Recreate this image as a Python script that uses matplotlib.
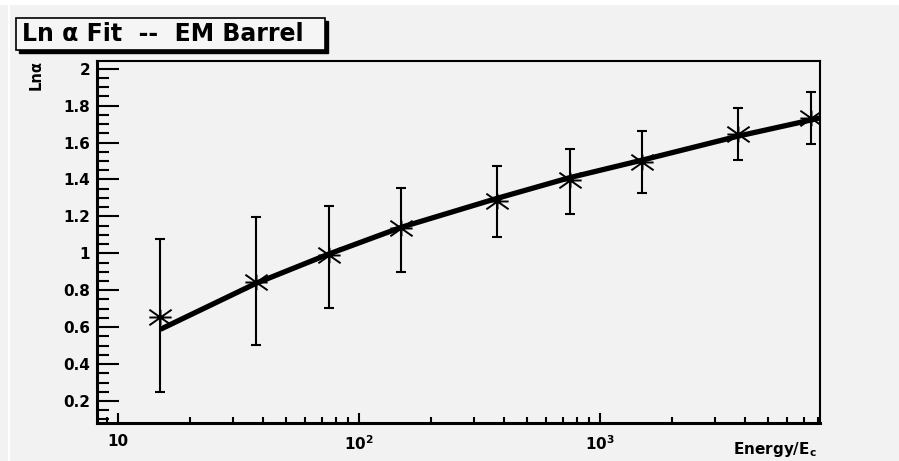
import numpy as np
import matplotlib
matplotlib.use('Agg')
from matplotlib import pyplot as plt
from matplotlib.path import Path
from matplotlib.patches import Rectangle
import matplotlib.ticker as ticker

plt.rcParams['font.family'] = ['DejaVu Sans']
plt.rcParams['font.weight'] = 'bold'
plt.rcParams['mathtext.fontset'] = 'dejavusans'

# data points (energy in units of Ec) and Ln(alpha) with error band ends
energy = [15, 37.5, 75, 150, 375, 750, 1500, 3750, 7500]
ln_alpha = [0.657, 0.845, 0.991, 1.137, 1.285, 1.397, 1.496, 1.646, 1.731]
ln_alpha_lo = [0.247, 0.503, 0.705, 0.897, 1.088, 1.211, 1.325, 1.505, 1.592]
ln_alpha_hi = [1.076, 1.195, 1.257, 1.355, 1.475, 1.565, 1.662, 1.789, 1.875]

# fit curve
fit_energy = [15, 37.5, 75, 150, 375, 750, 1500, 3750, 7500, 8185]
fit_value = [0.588, 0.838, 0.996, 1.141, 1.298, 1.41, 1.505, 1.635, 1.722, 1.733]

xticks = [10, 100, 1000]
xticklabels = ['10', r'$\mathbf{10^{2}}$', r'$\mathbf{10^{3}}$']

W, H = 899, 461
bg = '#f2f2f2'
fig = plt.figure(figsize=(W/100, H/100), dpi=100, facecolor=bg)

# canvas decorations (white strips)
fig.patches.append(Rectangle((0, 1-5.5/H), 1, 5.5/H, transform=fig.transFigure,
                             facecolor='white', edgecolor='none', zorder=0))
fig.patches.append(Rectangle((8/W, 0), 2/W, 1-5.5/H, transform=fig.transFigure,
                             facecolor='white', edgecolor='none', zorder=0))

ax = fig.add_axes([97/W, 38/H, (820-97)/W, (423-61)/H])
ax.set_facecolor(bg)
ax.set_xscale('log')
ax.set_xlim(8.19, 8185)
ax.set_ylim(0.0807, 2.0417)

y = np.array(ln_alpha)
err = [y - np.array(ln_alpha_lo), np.array(ln_alpha_hi) - y]

star = Path([(-1, 0), (1, 0), (0, -0.7), (0, 0.7),
             (-1, -0.7), (1, 0.7), (-1, 0.7), (1, -0.7)],
            [Path.MOVETO, Path.LINETO] * 4)

ax.errorbar(energy, y, yerr=err, fmt='none', ecolor='black', elinewidth=1.5,
            capsize=3.5, capthick=1.5, zorder=3)
ax.plot(energy, y, linestyle='none', marker=star, markersize=16,
        markeredgecolor='black', markeredgewidth=1.4, zorder=4)
ax.plot(fit_energy, fit_value, color='black', lw=3.8, solid_capstyle='butt',
        zorder=5, clip_on=True)

# axes style like ROOT
for s in ['left', 'bottom']:
    ax.spines[s].set_linewidth(2.2)
for s in ['top', 'right']:
    ax.spines[s].set_linewidth(1.5)

ax.xaxis.set_major_locator(ticker.FixedLocator(xticks))
ax.xaxis.set_major_formatter(ticker.FixedFormatter(xticklabels))
ax.xaxis.set_minor_locator(ticker.LogLocator(base=10, subs=np.arange(2, 10)))
ax.xaxis.set_minor_formatter(ticker.NullFormatter())
ax.yaxis.set_major_locator(ticker.MultipleLocator(0.2))
ax.yaxis.set_minor_locator(ticker.MultipleLocator(0.05))
ax.yaxis.set_major_formatter(ticker.FuncFormatter(lambda v, p: ('%g' % round(v, 2))))

ax.tick_params(axis='y', which='major', direction='in', length=16, width=1.5,
               labelsize=11, pad=5, right=False)
ax.tick_params(axis='y', which='minor', direction='in', length=8.5, width=1.5,
               right=False)
ax.tick_params(axis='x', which='major', direction='in', length=7.5, width=1.5,
               labelsize=11, pad=8, top=False)
ax.tick_params(axis='x', which='minor', direction='in', length=4.3, width=1.5,
               top=False)
for lab in ax.get_yticklabels() + ax.get_xticklabels():
    lab.set_fontweight('bold')

# axis titles
fig.text(36/W, 1-60/H, 'Ln\u03b1', rotation=90, ha='center', va='top',
         fontsize=10.5, fontweight='bold')
fig.text(817/W, 1-459/H, r'$\mathbf{Energy/E_{c}}$', ha='right', va='bottom',
         fontsize=11)

# title box with shadow
x0, y0, x1, y1 = 16, 18, 325, 50
fig.patches.append(Rectangle((x0/W + 3/W, 1-(y1+3)/H), (x1-x0)/W, (y1-y0)/H,
                             transform=fig.transFigure, facecolor='black',
                             edgecolor='black', zorder=5))
fig.patches.append(Rectangle((x0/W, 1-y1/H), (x1-x0)/W, (y1-y0)/H,
                             transform=fig.transFigure, facecolor='#f5f5f5',
                             edgecolor='black', lw=1.2, zorder=6))
fig.text(22/W, 1-(y0+y1)/2/H, 'Ln \u03b1 Fit  --  EM Barrel',
         ha='left', va='center', fontsize=17, fontweight='bold', zorder=7)

fig.savefig('out.png', dpi=100, facecolor=bg)
